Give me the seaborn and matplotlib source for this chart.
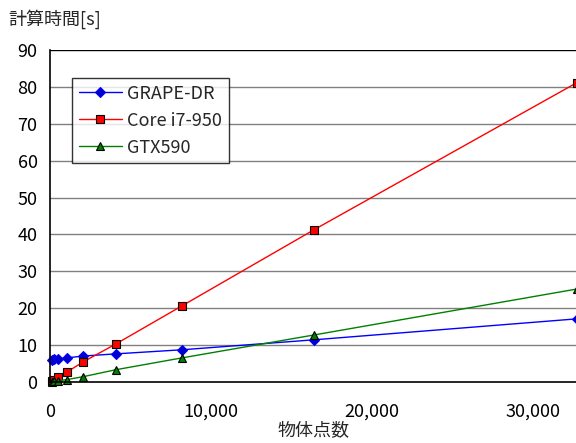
import matplotlib
matplotlib.use("Agg")
import matplotlib.pyplot as plt
import seaborn as sns
import pandas as pd

sns.set_theme(style="white")
plt.rcParams['font.family'] = ['Noto Sans CJK JP', 'DejaVu Sans']

# data
n_points = [128, 256, 512, 1024, 2048, 4096, 8192, 16384, 32768]
grape_dr = [6.0, 6.1, 6.2, 6.5, 7.0, 7.6, 8.7, 11.4, 17.1]
core_i7 = [0.3, 0.6, 1.3, 2.6, 5.4, 10.3, 20.6, 41.2, 81.2]
gtx590 = [0.05, 0.1, 0.3, 0.6, 1.4, 3.3, 6.5, 12.7, 25.2]
y_ticks = [0, 10, 20, 30, 40, 50, 60, 70, 80, 90]
x_ticks = [0, 10000, 20000, 30000]
x_tick_labels = ["0", "10,000", "20,000", "30,000"]

df = pd.DataFrame({"N": n_points, "GRAPE-DR": grape_dr,
                   "Core i7-950": core_i7, "GTX590": gtx590})
long = df.melt(id_vars="N", var_name="device", value_name="time")

fig = plt.figure(figsize=(5.76, 4.43), dpi=100)
ax = fig.add_axes([0.087, 0.138, 0.915, 0.749])

styles = {
    "GRAPE-DR": dict(color="#0000ff", marker="D", mfc="#0000cc", mec="#0000ff", ms=5),
    "Core i7-950": dict(color="#ff0000", marker="s", mfc="#ff0000", mec="black", ms=5.5),
    "GTX590": dict(color="#008000", marker="^", mfc="#008000", mec="black", ms=6),
}
for name, st in styles.items():
    sub = long[long["device"] == name]
    sns.lineplot(data=sub, x="N", y="time", ax=ax, label=name, color=st["color"],
                 marker=st["marker"], markersize=st["ms"], markerfacecolor=st["mfc"],
                 markeredgecolor=st["mec"], markeredgewidth=0.8, linewidth=1.0,
                 clip_on=False)

ax.set_xlim(0, 32768)
ax.set_ylim(0, 90)
ax.set_yticks(y_ticks)
ax.set_xticks(x_ticks)
ax.set_xticklabels(x_tick_labels)
ax.tick_params(axis="both", direction="in", length=5, width=0.8, labelsize=13,
               colors="black")
ax.tick_params(axis="y", pad=9)
ax.tick_params(axis="x", pad=15)
for y in y_ticks[1:]:
    ax.axhline(y, color="#808080" if y < 90 else "black", linewidth=1.0, zorder=0)

for side in ["top", "right"]:
    ax.spines[side].set_visible(False)
for side in ["left", "bottom"]:
    ax.spines[side].set_color("black")
    ax.spines[side].set_linewidth(1.2)

ax.set_xlabel("物体点数", fontsize=13, labelpad=0)
ax.set_ylabel("")
fig.text(0.014, 0.957, "計算時間[s]", fontsize=13, ha="left", va="center")

leg = ax.legend(loc="upper left", bbox_to_anchor=(0.042, 0.915), frameon=True,
                fancybox=False, edgecolor="black", fontsize=13, borderpad=0.35,
                labelspacing=0.5, handlelength=2.4, handletextpad=0.3,
                borderaxespad=0)
leg.get_frame().set_linewidth(1.0)

fig.savefig("out.png", dpi=100)
